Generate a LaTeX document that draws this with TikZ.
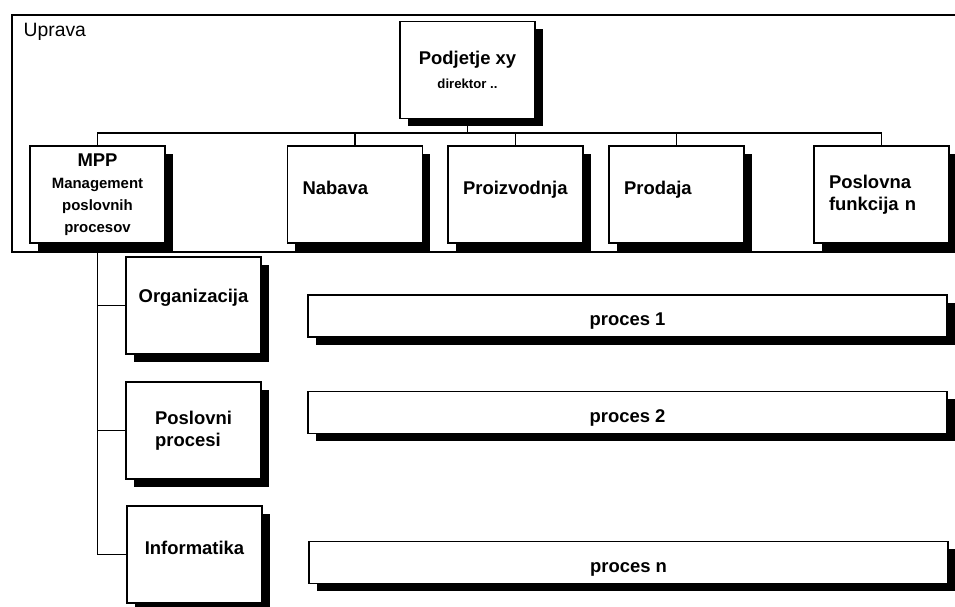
\documentclass[tikz,border=0pt]{standalone}
\usepackage{fontspec}
\setmainfont{Liberation Sans}
\usetikzlibrary{shadows}

\tikzset{
	box/.style={draw, line width=1.1pt, fill=white, inner sep=0pt,
		minimum width=2.7cm, minimum height=1.94cm,
		font=\fontsize{10.5}{12.5}\selectfont\bfseries,
		drop shadow={shadow xshift=4.5pt, shadow yshift=-4.5pt, fill=black, opacity=1}},
	fbox/.style={box, align=left, text width=2.1cm},
	bar/.style={box, minimum width=12.78cm, minimum height=0.84cm, text height=13.5pt},
	raised/.style={text depth=#1},
	frame/.style={draw, line width=1.2pt, inner sep=0pt},
	line/.style={line width=1.1pt}
}

\begin{document}
\begin{tikzpicture}[x=0.02cm, y=-0.02cm]
	\useasboundingbox (0,0) rectangle (955,606);
	% uprava
	\node[frame, minimum width=18.96cm, minimum height=4.74cm] (uprava) at (486,133.5) {};
	\node[anchor=north west, inner xsep=7pt, inner ysep=5pt, font=\fontsize{11}{13}\selectfont] (upravatxt) at (uprava.north west) {Uprava};
	\node[box, align=center] (pod) at (467.5,70) {Podjetje xy\\[1pt]{\fontsize{7.5}{9}\selectfont direktor ..}};

	\node[box, align=center] (mpp) at (97.5,194.5) {MPP\\{\fontsize{8.5}{11.5}\selectfont Management}\\{\fontsize{8.5}{11.5}\selectfont poslovnih}\\{\fontsize{8.5}{11.5}\selectfont procesov}};
	\node[fbox, raised=8pt] (nab) at (355,194.5) {Nabava};
	\node[fbox, raised=8pt] (proi) at (515.5,194.5) {Proizvodnja};
	\node[fbox, raised=8pt] (prod) at (676.5,194.5) {Prodaja};
	\node[fbox] (posl) at (881.5,194.5) {Poslovna\\funkcija n};

	\coordinate (bus) at (467.5,133);
	\draw[line] (pod.south) -- (bus);
	\foreach \n in {mpp,nab,proi,prod,posl}
		\draw[line] (bus) -| (\n.north);

	% MPP
	\node[box, raised=11pt] (org) at (193.5,305.5) {Organizacija};
	\node[box, align=left] (pp) at (193.5,430.5) {Poslovni\\procesi};
	\node[box, raised=8pt] (inf) at (194.5,554.5) {Informatika};
	\foreach \n in {org,pp,inf}
		\draw[line] (mpp.south) |- (\n.west);

	\node[bar] (p1) at (627.5,316) {proces 1};
	\node[bar] (p2) at (627.5,412.5) {proces 2};
	\node[bar] (pn) at (628.5,562.5) {proces n};
\end{tikzpicture}
\end{document}
